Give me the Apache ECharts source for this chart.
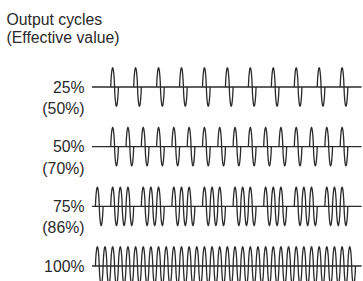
<!DOCTYPE html>
<html lang="en">
<head>
<meta charset="UTF-8">
<title>Output cycles</title>
<script src="https://cdn.jsdelivr.net/npm/echarts@6/dist/echarts.min.js"></script>
<style>html,body{margin:0;padding:0;background:#fff}</style>
</head>
<body>
<div id="main" style="width:363px;height:281px;"></div>
<script>
// rows, top to bottom
var rowLabels = ['25%', '50%', '75%', '100%'];
var effLabels = ['(50%)', '(70%)', '(86%)', ''];

// index of every "on" cycle in each row
var cycles25 = [2, 5, 8, 11, 14, 17, 20, 23, 26, 29, 32];
var cycles50 = [2, 4, 6, 8, 10, 12, 14, 16, 18, 20, 22, 24, 26, 28, 30, 32];
var cycles75 = [0, 2, 3, 4, 6, 7, 8, 10, 11, 12, 14, 15, 16, 18, 19, 20, 22, 23, 24, 26, 27, 28, 30, 31, 32];
var cycles100 = [0, 1, 2, 3, 4, 5, 6, 7, 8, 9, 10, 11, 12, 13, 14, 15, 16, 17, 18, 19, 20, 21, 22, 23, 24, 25, 26, 27, 28, 29, 30, 31, 32, 33];
var rowCycles = [cycles25, cycles50, cycles75, cycles100];

var lineStart = -0.45;
var lineEnd = 34.8;
var amp = 0.32;
var ink = '#2a2a2a';
var font = 'Liberation Sans, Arial, Helvetica, sans-serif';

var myChart = echarts.init(document.getElementById('main'), null, {renderer: 'svg'});

function drawRow(params, api) {
    var row = api.value(0);
    var a = api.coord([lineStart, row]);
    var b = api.coord([lineEnd, row]);
    var kids = [
        {type: 'line', shape: {x1: a[0], y1: a[1], x2: b[0], y2: b[1]},
            style: {stroke: ink, lineWidth: 1.3}},
        {type: 'text', x: a[0] - 7.5, y: a[1],
            style: {text: rowLabels[row], fill: '#2a2a2a', font: '15.8px ' + font,
                align: 'right', verticalAlign: 'middle'}}
    ];
    if (effLabels[row]) {
        kids.push({type: 'text', x: a[0] - 7.5, y: a[1] + 21.5,
            style: {text: effLabels[row], fill: '#2a2a2a', font: '15.8px ' + font,
                align: 'right', verticalAlign: 'middle'}});
    }
    return {type: 'group', children: kids};
}

// one full cycle starting at cycle index k, humps a little fuller than a plain sine
function drawCycle(params, api) {
    var k = api.value(0), row = api.value(1);
    var pts = [];
    for (var i = 0; i <= 32; i++) {
        var t = i / 32;
        var s = Math.sin(2 * Math.PI * t);
        var v = (s < 0 ? -1 : 1) * Math.pow(Math.abs(s), 0.7);
        pts.push(api.coord([k + t, row - amp * v]));
    }
    return {type: 'polyline', shape: {points: pts},
        style: {stroke: ink, fill: null, lineWidth: 1.3}};
}

var series = [{
    type: 'custom',
    name: 'rows',
    renderItem: drawRow,
    data: rowLabels.map(function (l, i) { return [i]; }),
    silent: true
}];
rowCycles.forEach(function (list, r) {
    series.push({
        type: 'custom',
        name: rowLabels[r],
        renderItem: drawCycle,
        data: list.map(function (k) { return [k, r]; }),
        silent: true
    });
});

var option = {
    animation: false,
    title: {
        text: 'Output cycles\n(Effective value)',
        left: 6.5,
        top: 11,
        padding: 0,
        textStyle: {fontSize: 15.8, fontWeight: 'normal', lineHeight: 17.7, color: '#2a2a2a', fontFamily: font}
    },
    grid: {left: 92, right: 1.4, top: 87, bottom: 15},
    xAxis: {type: 'value', min: lineStart, max: lineEnd, show: false},
    yAxis: {type: 'value', min: 0, max: 3, inverse: true, show: false},
    series: series
};

myChart.setOption(option);
</script>
</body>
</html>
